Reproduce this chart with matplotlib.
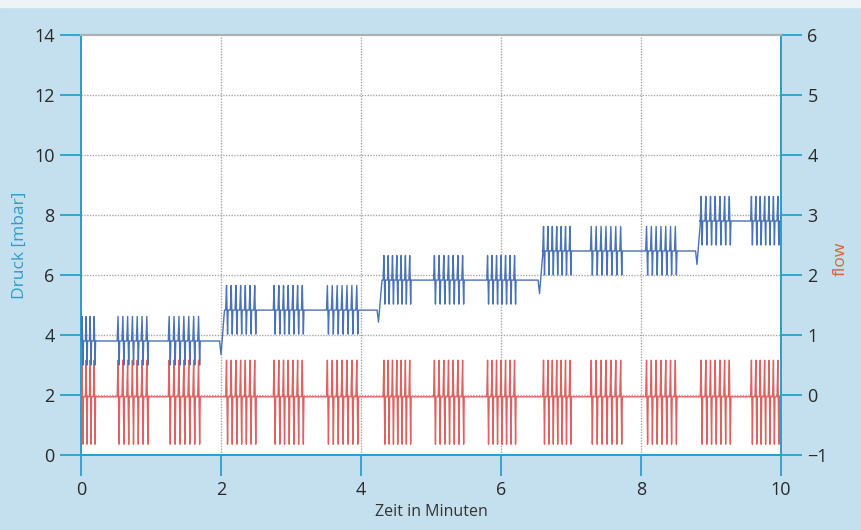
import matplotlib
matplotlib.use("Agg")
import matplotlib.pyplot as plt
import numpy as np

# ---- data ----
# ventilation bursts (minutes)
burst_start = [0.00, 0.51, 1.24, 2.06, 2.74, 3.50, 4.31, 5.03, 5.79, 6.59, 7.27, 8.06, 8.84, 9.56]
burst_end   = [0.23, 0.99, 1.73, 2.53, 3.21, 3.99, 4.74, 5.50, 6.24, 7.03, 7.76, 8.54, 9.31, 10.00]
burst_cycles = [4, 7, 7, 7, 7, 7, 7, 7, 7, 7, 7, 7, 7, 7]

# pressure baseline steps (mbar)
step_times = [0.0, 2.0, 4.25, 6.55, 8.80]
step_base  = [3.80, 4.83, 5.83, 6.80, 7.80]
press_hi_off = 0.82     # peak above baseline
press_lo_off = -0.80    # trough below baseline
step_dip = [0.0, -0.45, -0.40, -0.45, -0.45]   # transient dip at each step

# flow (right axis units)
flow_base = -0.03
flow_hi = 0.58
flow_lo = -0.82

x_ticks = [0, 2, 4, 6, 8, 10]
left_ticks = [0, 2, 4, 6, 8, 10, 12, 14]
right_ticks = [-1, 0, 1, 2, 3, 4, 5, 6]

# ---- build waveforms from the values above ----
def base_at(t):
    idx = np.searchsorted(step_times, t, side="right") - 1
    return step_base[max(idx, 0)]

pt, pv, ft, fv = [], [], [], []
prev_end = 0.0
for s, e, n in zip(burst_start, burst_end, burst_cycles):
    for k, st in enumerate(step_times):
        if k > 0 and prev_end <= st < s:
            pt += [st - 0.02, st, st + 0.05]
            pv += [step_base[k - 1], step_base[k - 1] + step_dip[k], step_base[k]]
    b = base_at(s + 0.01)
    pt.append(s); pv.append(b)
    ft.append(s); fv.append(flow_base)
    p = (e - s) / n
    for i in range(n):
        t0 = s + i * p
        tt = [t0 + 0.10 * p, t0 + 0.28 * p, t0 + 0.50 * p, t0 + 0.62 * p]
        pt += tt
        pv += [b, b + press_hi_off, b + press_lo_off, b]
        ft += tt
        fv += [flow_base, flow_hi, flow_lo, flow_base]
    pt.append(e); pv.append(b)
    ft.append(e); fv.append(flow_base)
    prev_end = e

# ---- figure ----
bg = "#c4e0ee"
spine_blue = "#2a9fd0"
fonts = ["Open Sans", "DejaVu Sans"]
fig = plt.figure(figsize=(8.61, 5.30), dpi=100, facecolor=bg)
fig.patches.append(plt.Rectangle((0, 1 - 7 / 530), 1, 7 / 530, transform=fig.transFigure,
                                 color="#eef3f6", zorder=0))
ax = fig.add_axes([81 / 861, 1 - 455 / 530, 700 / 861, 420 / 530])
ax2 = ax.twinx()

ax.set_xlim(0, 10)
ax.set_ylim(0, 14)
ax2.set_ylim(-1, 6)

ax2.plot(ft, fv, color="#de6262", lw=1.0, zorder=3)
ax.plot(pt, pv, color="#4a72b8", lw=1.0, zorder=4)
ax.set_zorder(ax2.get_zorder() + 1)
ax.patch.set_visible(False)
ax2.patch.set_visible(True)
ax2.patch.set_facecolor("white")

# grid
for y in left_ticks[1:-1]:
    ax2.axhline((y - 2) / 2, color="#a8a8a8", lw=1.0, ls=(0, (1, 1)), zorder=1)
for x in x_ticks[1:-1]:
    ax2.axvline(x, color="#a8a8a8", lw=1.0, ls=(0, (1, 1)), zorder=1)

ax.set_xticks(x_ticks)
ax.set_yticks(left_ticks)
ax2.set_yticks(right_ticks)
ax2.set_yticklabels(["\u22121"] + [str(v) for v in right_ticks[1:]])

for a in (ax, ax2):
    for sp in a.spines.values():
        sp.set_color(spine_blue)
        sp.set_linewidth(1.3)
    a.spines["top"].set_color("#b0b0b0")
    a.spines["top"].set_linewidth(1.5)
    a.tick_params(length=15, width=1.3, color=spine_blue, labelcolor="#2a2a2a",
                  labelsize=13, pad=4)

ax.set_xlabel("Zeit in Minuten", fontsize=11.5, color="#333333", labelpad=3)
ax.set_ylabel("Druck [mbar]", fontsize=12.5, color="#2a9fd0")
ax2.set_ylabel("flow", fontsize=12.5, color="#e0603a")
ax.yaxis.set_label_coords(-53 / 700, 0.5)
ax2.yaxis.set_label_coords(1 + 52 / 700, 0.467)

for a in (ax, ax2):
    for lab in a.get_xticklabels() + a.get_yticklabels():
        lab.set_fontfamily(fonts)
    a.xaxis.label.set_fontfamily(fonts)
    a.yaxis.label.set_fontfamily(fonts)

fig.savefig("out.png", dpi=100, facecolor=bg)
